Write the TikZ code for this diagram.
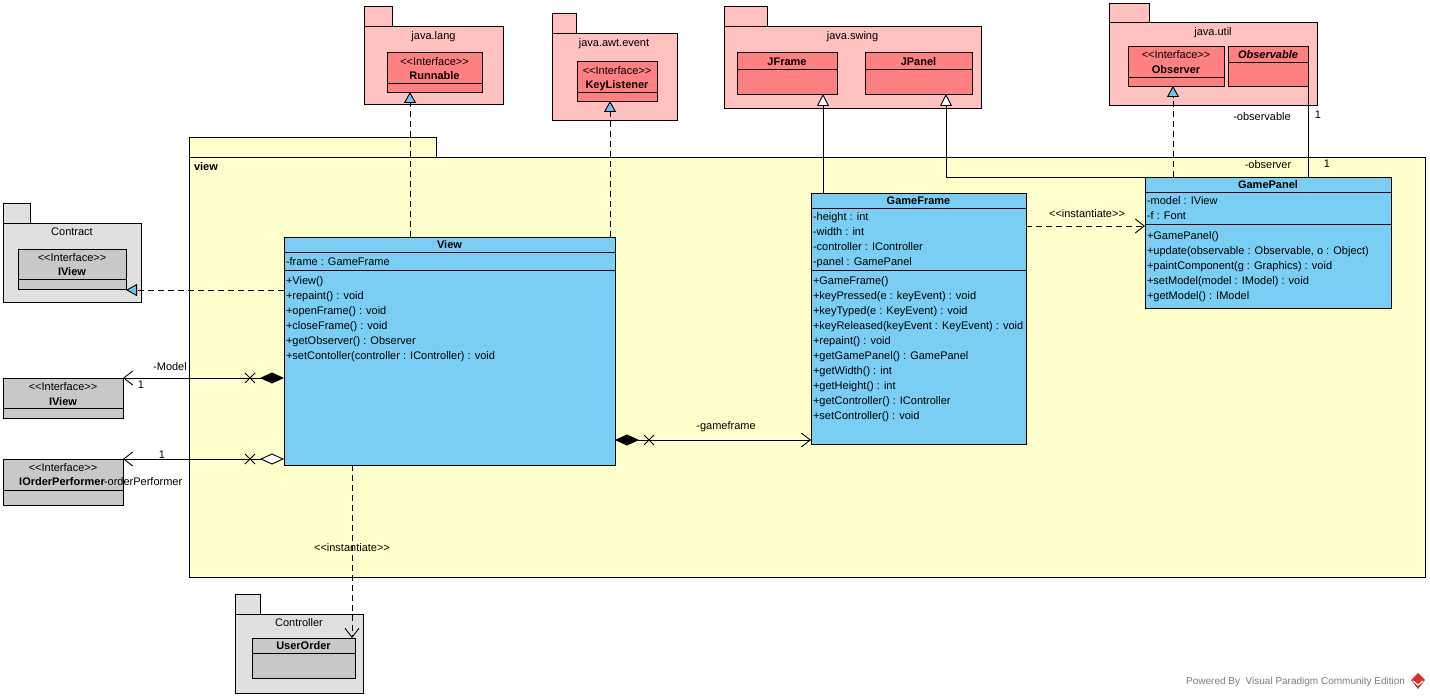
\documentclass[tikz,border=0pt]{standalone}
\usepackage{fontspec}
\setmainfont{Liberation Sans}[Ligatures=TeXOff]
\usetikzlibrary{arrows.meta,decorations.markings}

\definecolor{pkgyellow}{RGB}{255,255,204}
\definecolor{pkgpink}{RGB}{255,192,192}
\definecolor{clsred}{RGB}{255,128,128}
\definecolor{clsblue}{RGB}{122,206,244}
\definecolor{pkggray}{RGB}{224,224,224}
\definecolor{clsgray}{RGB}{200,200,200}
\definecolor{tipblue}{RGB}{110,196,238}
\definecolor{footgray}{RGB}{125,125,125}
\definecolor{logored}{RGB}{214,48,40}

\tikzset{
  frame/.style={draw=black, line width=0.9pt, inner sep=0pt, outer sep=0pt,
                anchor=north west, rectangle},
  lbl/.style={inner sep=0pt, outer sep=0pt, text height=8pt, text depth=2.2pt,
              yshift=-1.8pt, font=\fontsize{11}{13}\selectfont},
  ttl/.style={lbl, font=\fontsize{11}{13}\selectfont\bfseries},
  memb/.style={lbl, anchor=west},
  sepline/.style={draw=black, line width=0.9pt},
  conn/.style={draw=black, line width=0.9pt},
  dashline/.style={conn, dash pattern=on 6pt off 4pt},
  realize/.style={dashline, -{Triangle[width=12pt,length=11pt,fill=tipblue]}},
  generalize/.style={conn, -{Triangle[width=12pt,length=12pt,fill=white]}},
  navtip/.style={-{Straight Barb[length=9pt,width=14pt]}},
  xmark/.style={postaction={decorate, decoration={markings,
      mark=at position 34pt with {\draw[line width=0.9pt, solid, arrows=-]
        (-5pt,-5pt)--(5pt,5pt) (-5pt,5pt)--(5pt,-5pt);}}}},
  compose/.style={conn, xmark, {Diamond[length=24pt,width=11pt,fill=black]}-{Straight Barb[length=9pt,width=14pt]}},
  aggreg/.style={conn, xmark, {Diamond[length=24pt,width=11pt,fill=white]}-{Straight Barb[length=9pt,width=14pt]}},
}

\begin{document}
\begin{tikzpicture}[x=1pt,y=-1pt]
\useasboundingbox (0,0) rectangle (1430,698);
\fill[white] (0,0) rectangle (1430,698);

% ---------- package: view ----------
\node[frame, fill=pkgyellow, minimum width=247pt, minimum height=20pt] (viewtab) at (189,137) {};
\node[frame, fill=pkgyellow, minimum width=1236pt, minimum height=420pt] (viewpkg) at (189,157) {};
\node[ttl, anchor=west] (viewname) at (194,166) {view};

% ---------- package: java.lang ----------
\node[frame, fill=pkgpink, minimum width=28pt, minimum height=20pt] (langtab) at (364,6) {};
\node[frame, fill=pkgpink, minimum width=139pt, minimum height=78pt] (langpkg) at (364,26) {};
\node[lbl] (langname) at (433.5,35) {java.lang};
\node[frame, fill=clsred, minimum width=95pt, minimum height=40pt] (runnable) at (387,52) {};
\node[lbl] (runst) at (434.5,61) {<<Interface>>};
\node[ttl] (runname) at (434.5,75) {Runnable};
\draw[sepline] (runnable.west |- 0,83) -- (runnable.east |- 0,83);

% ---------- package: java.awt.event ----------
\node[frame, fill=pkgpink, minimum width=24pt, minimum height=20pt] (awttab) at (552,13) {};
\node[frame, fill=pkgpink, minimum width=125pt, minimum height=87pt] (awtpkg) at (552,33) {};
\node[lbl] (awtname) at (614,42) {java.awt.event};
\node[frame, fill=clsred, minimum width=80pt, minimum height=40pt] (keylistener) at (577,61) {};
\node[lbl] (klst) at (617,70) {<<Interface>>};
\node[ttl] (klname) at (617,84) {KeyListener};
\draw[sepline] (keylistener.west |- 0,92) -- (keylistener.east |- 0,92);

% ---------- package: java.swing ----------
\node[frame, fill=pkgpink, minimum width=43pt, minimum height=20pt] (swingtab) at (724,6) {};
\node[frame, fill=pkgpink, minimum width=257pt, minimum height=82pt] (swingpkg) at (724,26) {};
\node[lbl] (swingname) at (852.5,35) {java.swing};
\node[frame, fill=clsred, minimum width=100pt, minimum height=42pt] (jframe) at (737,52) {};
\node[ttl] (jframename) at (787,61) {JFrame};
\draw[sepline] (jframe.west |- 0,69) -- (jframe.east |- 0,69);
\node[frame, fill=clsred, minimum width=107pt, minimum height=42pt] (jpanel) at (865,52) {};
\node[ttl] (jpanelname) at (918.5,61) {JPanel};
\draw[sepline] (jpanel.west |- 0,69) -- (jpanel.east |- 0,69);

% ---------- package: java.util ----------
\node[frame, fill=pkgpink, minimum width=40pt, minimum height=19pt] (utiltab) at (1109,3) {};
\node[frame, fill=pkgpink, minimum width=208pt, minimum height=83pt] (utilpkg) at (1109,22) {};
\node[lbl] (utilname) at (1213,31) {java.util};
\node[frame, fill=clsred, minimum width=96pt, minimum height=40pt] (observer) at (1128,46) {};
\node[lbl] (obsst) at (1176,54) {<<Interface>>};
\node[ttl] (obsname) at (1176,69) {Observer};
\draw[sepline] (observer.west |- 0,77) -- (observer.east |- 0,77);
\node[frame, fill=clsred, minimum width=80pt, minimum height=40pt] (observable) at (1228,46) {};
\node[lbl, font=\fontsize{11}{13}\selectfont\bfseries\itshape] (oblname) at (1268,54) {Observable};
\draw[sepline] (observable.west |- 0,62) -- (observable.east |- 0,62);

% ---------- package: Contract ----------
\node[frame, fill=pkggray, minimum width=27pt, minimum height=20pt] (contracttab) at (3,203) {};
\node[frame, fill=pkggray, minimum width=138pt, minimum height=79pt] (contractpkg) at (3,223) {};
\node[lbl] (contractname) at (72,231) {Contract};
\node[frame, fill=clsgray, minimum width=108pt, minimum height=40pt] (ciview) at (18,249) {};
\node[lbl] (civst) at (72,257) {<<Interface>>};
\node[ttl] (civname) at (72,271) {IView};
\draw[sepline] (ciview.west |- 0,279) -- (ciview.east |- 0,279);

% ---------- loose interfaces ----------
\node[frame, fill=clsgray, minimum width=120pt, minimum height=40pt] (iview) at (3,378) {};
\node[lbl] (ivst) at (63,386) {<<Interface>>};
\node[ttl] (ivname) at (63,401) {IView};
\draw[sepline] (iview.west |- 0,408) -- (iview.east |- 0,408);

\node[frame, fill=clsgray, minimum width=120pt, minimum height=46pt] (iorder) at (3,459) {};
\node[lbl] (iost) at (63,467) {<<Interface>>};
\node[ttl] (ioname) at (62,481) {IOrderPerformer};
\draw[sepline] (iorder.west |- 0,490) -- (iorder.east |- 0,490);

% ---------- package: Controller ----------
\node[frame, fill=pkggray, minimum width=25pt, minimum height=20pt] (ctrltab) at (235,594) {};
\node[frame, fill=pkggray, minimum width=128pt, minimum height=79pt] (ctrlpkg) at (235,614) {};
\node[lbl] (ctrlname) at (299,622) {Controller};
\node[frame, fill=clsgray, minimum width=103pt, minimum height=40pt] (userorder) at (252,638) {};
\node[ttl] (uoname) at (303.5,645) {UserOrder};
\draw[sepline] (userorder.west |- 0,653) -- (userorder.east |- 0,653);

% ---------- class View ----------
\node[frame, fill=clsblue, minimum width=331pt, minimum height=228pt] (view) at (284,237) {};
\node[ttl] (viewtitle) at (449.5,244) {View};
\draw[sepline] (view.west |- 0,252) -- (view.east |- 0,252);
\node[memb] (vat0) at (286,261) {-frame : GameFrame};
\draw[sepline] (view.west |- 0,270) -- (view.east |- 0,270);
\foreach \t [count=\i from 0] in {{+View()},{+repaint() : void},{+openFrame() : void},
    {+closeFrame() : void},{+getObserver() : Observer},
    {+setContoller(controller : IController) : void}}
  \node[memb] (vop\i) at (286,{280+15*\i}) {\t};

% ---------- class GameFrame ----------
\node[frame, fill=clsblue, minimum width=215pt, minimum height=251pt] (gameframe) at (811,193) {};
\node[ttl] (gftitle) at (918.5,200) {GameFrame};
\draw[sepline] (gameframe.west |- 0,208) -- (gameframe.east |- 0,208);
\foreach \t [count=\i from 0] in {{-height : int},{-width : int},
    {-controller : IController},{-panel : GamePanel}}
  \node[memb] (gfat\i) at (813,{216+15*\i}) {\t};
\draw[sepline] (gameframe.west |- 0,270) -- (gameframe.east |- 0,270);
\foreach \t [count=\i from 0] in {{+GameFrame()},{+keyPressed(e : keyEvent) : void},
    {+keyTyped(e : KeyEvent) : void},{+keyReleased(keyEvent : KeyEvent) : void},
    {+repaint() : void},{+getGamePanel() : GamePanel},{+getWidth() : int},
    {+getHeight() : int},{+getController() : IController},{+setController() : void}}
  \node[memb] (gfop\i) at (813,{280+15*\i}) {\t};

% ---------- class GamePanel ----------
\node[frame, fill=clsblue, minimum width=246pt, minimum height=131pt] (gamepanel) at (1145,177) {};
\node[ttl] (gptitle) at (1268,184) {GamePanel};
\draw[sepline] (gamepanel.west |- 0,192) -- (gamepanel.east |- 0,192);
\node[memb] (gpat0) at (1147,200) {-model : IView};
\node[memb] (gpat1) at (1147,215) {-f : Font};
\draw[sepline] (gamepanel.west |- 0,224) -- (gamepanel.east |- 0,224);
\foreach \t [count=\i from 0] in {{+GamePanel()},{+update(observable : Observable, o : Object)},
    {+paintComponent(g : Graphics) : void},{+setModel(model : IModel) : void},
    {+getModel() : IModel}}
  \node[memb] (gpop\i) at (1147,{235+15*\i}) {\t};

% ---------- realizations ----------
\draw[realize] (view.north -| 410,0) -- (runnable.south -| 410,0);
\draw[realize] (view.north -| 610,0) -- (keylistener.south -| 610,0);
\draw[realize] (view.west |- 0,290) -- (ciview.east |- 0,290);
\draw[realize] (gamepanel.north -| 1173,0) -- (observer.south -| 1173,0);

% ---------- generalizations ----------
\draw[generalize] (gameframe.north -| 823,0) -- (jframe.south -| 823,0);
\draw[generalize] (gamepanel.north west) -| (jpanel.south -| 946,0);

% ---------- associations ----------
\draw[conn] (gamepanel.north -| observable.south east) -- (observable.south east);
\node[lbl] (obsrole) at (1262,116) {-observable};
\node[lbl] (obsmult) at (1318,114) {1};
\node[lbl] (obrole) at (1268,164) {-observer};
\node[lbl] (obmult) at (1327,163) {1};

\draw[compose] (view.west |- iview.north) -- (iview.north east);
\node[lbl] (modelrole) at (170,366) {-Model};
\node[lbl] (modelmult) at (141,384) {1};

\draw[aggreg] (view.west |- iorder.north) -- (iorder.north east);
\node[lbl] (iomult) at (162,454) {1};
\node[memb] (iorole) at (104,481) {-orderPerformer};

\draw[compose] (view.east |- 0,440) -- (gameframe.west |- 0,440);
\node[lbl] (gfrole) at (726,425) {-gameframe};

% ---------- instantiations ----------
\draw[dashline, navtip] (gameframe.east |- 0,226) -- (gamepanel.west |- 0,226);
\node[lbl] (inst1) at (1087,213) {<<instantiate>>};
\draw[dashline, navtip] (view.south -| 352,0) -- (userorder.north -| 352,0);
\node[lbl] (inst2) at (352,547) {<<instantiate>>};

% ---------- footer ----------
\node[inner sep=0pt, anchor=west, text=footgray, font=\fontsize{10}{12}\selectfont] (footer) at (1186,682) {Powered By\ \ Visual Paradigm Community Edition};
\fill[logored] (1418,673) -- (1425,680) -- (1418,689) -- (1411,680) -- cycle;
\draw[white, line width=1.2pt] (1413,681) -- (1418,685) -- (1423,681);
\end{tikzpicture}
\end{document}
